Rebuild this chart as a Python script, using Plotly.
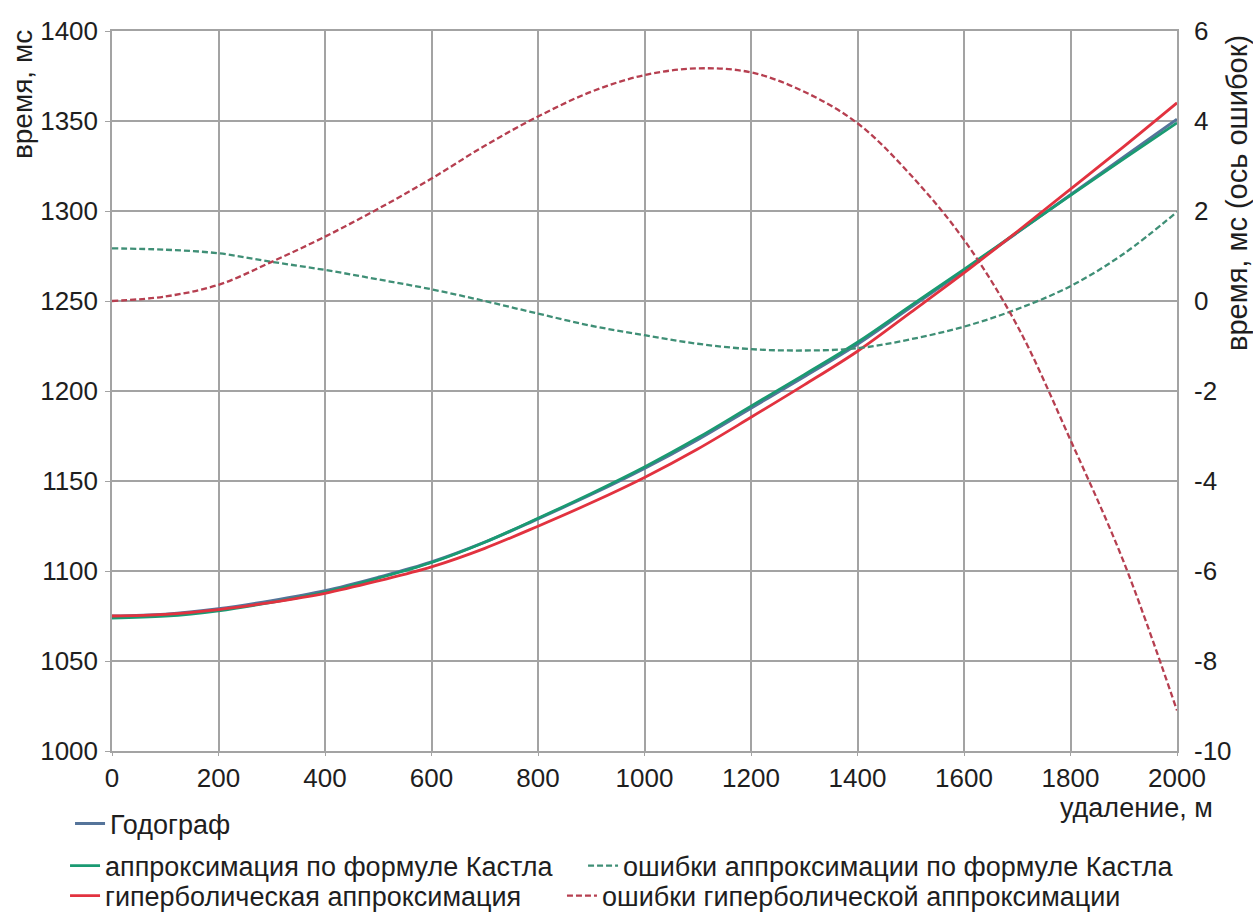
import plotly.graph_objects as go

# offset, m
offset_m = [0, 100, 200, 300, 400, 500, 600, 700, 800, 900, 1000,
            1100, 1200, 1300, 1400, 1500, 1600, 1700, 1800, 1900, 2000]

# travel-time curve (hodograph), ms
hodograph_ms = [1075.0, 1076.0, 1079.0, 1083.5, 1089.0, 1096.5, 1105.0, 1116.0,
                1129.0, 1142.5, 1157.0, 1173.0, 1190.5, 1208.0, 1226.0, 1246.5,
                1267.0, 1288.0, 1309.0, 1330.0, 1351.0]

# Castle-formula approximation, ms
castle_ms = [1073.8, 1074.9, 1077.9, 1082.6, 1088.3, 1096.0, 1104.7, 1116.0,
             1129.3, 1143.1, 1157.8, 1174.0, 1191.6, 1209.1, 1227.1, 1247.4,
             1267.6, 1288.2, 1308.7, 1329.0, 1349.0]

# hyperbolic approximation, ms
hyperbolic_ms = [1075.0, 1075.9, 1078.6, 1082.6, 1087.6, 1094.5, 1102.3, 1112.6,
                 1124.9, 1137.9, 1152.0, 1167.8, 1185.4, 1203.4, 1222.1, 1243.7,
                 1265.6, 1288.6, 1312.1, 1335.8, 1360.1]

# approximation errors, ms (right axis)
castle_err_ms = [1.17, 1.14, 1.06, 0.87, 0.69, 0.48, 0.26, 0.0, -0.28, -0.55, -0.76,
                 -0.95, -1.07, -1.10, -1.05, -0.85, -0.57, -0.18, 0.33, 1.05, 1.98]
hyperbolic_err_ms = [0.0, 0.10, 0.36, 0.87, 1.43, 2.05, 2.72, 3.45, 4.10, 4.65, 5.02,
                     5.17, 5.08, 4.65, 3.95, 2.80, 1.36, -0.55, -3.09, -5.80, -9.10]

x_ticks = [0, 200, 400, 600, 800, 1000, 1200, 1400, 1600, 1800, 2000]
left_ticks = [1000, 1050, 1100, 1150, 1200, 1250, 1300, 1350, 1400]
right_ticks = [-10, -8, -6, -4, -2, 0, 2, 4, 6]

FONT = "Liberation Sans, Arial, sans-serif"
TXT = "#1e1e1e"
GRID = "#a3a3a3"

C_HODO = "#55749a"
C_CASTLE = "#1a9a72"
C_HYPER = "#e2323f"
C_CASTLE_ERR = "#3f8f76"
C_HYPER_ERR = "#b63f50"

fig = go.Figure()

fig.add_trace(go.Scatter(x=offset_m, y=hodograph_ms, name="Годограф",
                         mode="lines", line=dict(color=C_HODO, width=3, shape="spline"),
                         legend="legend"))
fig.add_trace(go.Scatter(x=offset_m, y=castle_ms, name="аппроксимация по формуле Кастла",
                         mode="lines", line=dict(color=C_CASTLE, width=2.8, shape="spline"),
                         legend="legend2"))
fig.add_trace(go.Scatter(x=offset_m, y=hyperbolic_ms, name="гиперболическая аппроксимация",
                         mode="lines", line=dict(color=C_HYPER, width=2.8, shape="spline"),
                         legend="legend3"))
fig.add_trace(go.Scatter(x=offset_m, y=castle_err_ms, name="ошибки аппроксимации по формуле Кастла",
                         mode="lines", yaxis="y2",
                         line=dict(color=C_CASTLE_ERR, width=2.3, dash="6px,3px", shape="spline"),
                         legend="legend4"))
fig.add_trace(go.Scatter(x=offset_m, y=hyperbolic_err_ms, name="ошибки гиперболической аппроксимации",
                         mode="lines", yaxis="y2",
                         line=dict(color=C_HYPER_ERR, width=2.3, dash="6px,3px", shape="spline"),
                         legend="legend5"))

tick_font = dict(family=FONT, size=26, color=TXT)
legend_font = dict(family=FONT, size=27, color=TXT)


def legend_box(x, y):
    return dict(orientation="h", x=x, xanchor="left", y=y, yanchor="middle",
                font=legend_font, bgcolor="rgba(0,0,0,0)", itemwidth=30)


fig.update_layout(
    width=1253, height=917,
    margin=dict(l=112, r=76, t=31, b=166, autoexpand=False),
    paper_bgcolor="white", plot_bgcolor="white",
    font=dict(family=FONT, color=TXT),
    xaxis=dict(range=[0, 2000], tickvals=x_ticks, ticktext=[str(v) for v in x_ticks],
               showgrid=True, gridcolor=GRID, gridwidth=1.5,
               showline=True, linecolor=GRID, linewidth=1.5, mirror=True,
               ticks="outside", ticklen=3, tickcolor=GRID,
               tickfont=tick_font, zeroline=False),
    yaxis=dict(range=[1000, 1400], tickvals=left_ticks,
               showgrid=True, gridcolor=GRID, gridwidth=1.5,
               showline=True, linecolor=GRID, linewidth=1.5, mirror=True,
               ticks="outside", ticklen=5, tickcolor=GRID,
               tickfont=tick_font, zeroline=False, ticklabelstandoff=2),
    yaxis2=dict(range=[-10, 6], tickvals=right_ticks,
                ticktext=[str(v) for v in right_ticks],
                overlaying="y", side="right",
                showgrid=False, zeroline=False, showline=False,
                ticks="", tickfont=tick_font, ticklabelstandoff=16),
    legend=legend_box(-0.0394, -0.1014),
    legend2=legend_box(-0.0441, -0.1597),
    legend3=legend_box(-0.0441, -0.2014),
    legend4=legend_box(0.4423, -0.1597),
    legend5=legend_box(0.4225, -0.2014),
    showlegend=True,
)

# axis titles
fig.add_annotation(text="время, мс", xref="paper", yref="paper",
                   x=-0.0845, y=0.911, xanchor="center", yanchor="middle",
                   textangle=-90, showarrow=False,
                   font=dict(family=FONT, size=28, color=TXT))
fig.add_annotation(text="время, мс (ось ошибок)", xref="paper", yref="paper",
                   x=1.0563, y=0.775, xanchor="center", yanchor="middle",
                   textangle=-90, showarrow=False,
                   font=dict(family=FONT, size=29, color=TXT))
fig.add_annotation(text="удаление, м", xref="paper", yref="paper",
                   x=1.0357, y=-0.079, xanchor="right", yanchor="middle", showarrow=False,
                   font=dict(family=FONT, size=27, color=TXT))

fig.write_html("out.html")
